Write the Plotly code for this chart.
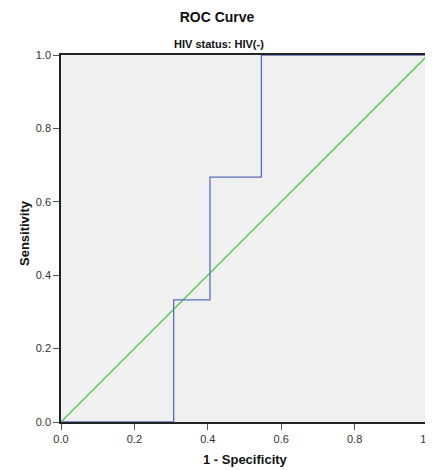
import plotly.graph_objects as go

# ROC step curve (1 - specificity, sensitivity)
roc_fpr = [0.0, 0.307, 0.307, 0.406, 0.406, 0.546, 0.546, 1.0]
roc_tpr = [0.0, 0.0, 0.333, 0.333, 0.667, 0.667, 1.0, 1.0]
ref_x = [0.0, 1.0]
ref_y = [0.0, 1.0]
tick_vals = [0.0, 0.2, 0.4, 0.6, 0.8, 1.0]
tick_text = ["0.0", "0.2", "0.4", "0.6", "0.8", "1.0"]

FONT = "Liberation Sans, Arial, sans-serif"
OFF = 8  # default page body margin
W, H = 433 - OFF, 470 - OFF
L, R, T, B = 61 - OFF, 5, 55 - OFF, 48
PW, PH = W - L - R, H - T - B

fig = go.Figure()
fig.add_trace(go.Scatter(x=ref_x, y=ref_y, mode="lines", cliponaxis=False,
                         line=dict(color="#4FC94F", width=1.3), hoverinfo="skip"))
fig.add_trace(go.Scatter(x=roc_fpr, y=roc_tpr, mode="lines", cliponaxis=False,
                         line=dict(color="#5A6EBE", width=1.3), hoverinfo="skip"))

axis_common = dict(range=[0, 1], tickvals=tick_vals, ticktext=tick_text, automargin=False,
                   showgrid=False, zeroline=False, showline=True, linecolor="#222222",
                   linewidth=1.5, mirror=True, ticks="outside", ticklen=6, tickwidth=1.3,
                   tickcolor="#555555", ticklabeloverflow="allow",
                   tickfont=dict(family=FONT, size=11, color="#333333"))

def px_x(px):
    return (px - OFF - L) / PW

def px_y(py):
    return (H - B - (py - OFF)) / PH

fig.update_layout(
    width=W, height=H,
    margin=dict(l=L, r=R, t=T, b=B, autoexpand=False),
    paper_bgcolor="white", plot_bgcolor="#F0F0F0",
    showlegend=False,
    title=dict(text="<b>ROC Curve</b>", x=(217 - OFF) / W, xref="container", xanchor="center",
               y=1 - (17 - OFF) / H, yref="container", yanchor="middle",
               font=dict(family=FONT, size=14, color="#111111")),
    xaxis=axis_common,
    yaxis=axis_common,
    annotations=[
        dict(text="<b>HIV status: HIV(-)</b>", xref="paper", yref="paper",
             x=px_x(219), y=px_y(44), xanchor="center", yanchor="middle",
             showarrow=False, font=dict(family=FONT, size=11, color="#111111")),
        dict(text="<b>1 - Specificity</b>", xref="paper", yref="paper",
             x=px_x(245), y=px_y(459), xanchor="center", yanchor="middle",
             showarrow=False, font=dict(family=FONT, size=13, color="#111111")),
        dict(text="<b>Sensitivity</b>", xref="paper", yref="paper", textangle=-90,
             x=px_x(25), y=px_y(233), xanchor="center", yanchor="middle",
             showarrow=False, font=dict(family=FONT, size=13, color="#111111")),
    ],
)

fig.write_html("out.html")
